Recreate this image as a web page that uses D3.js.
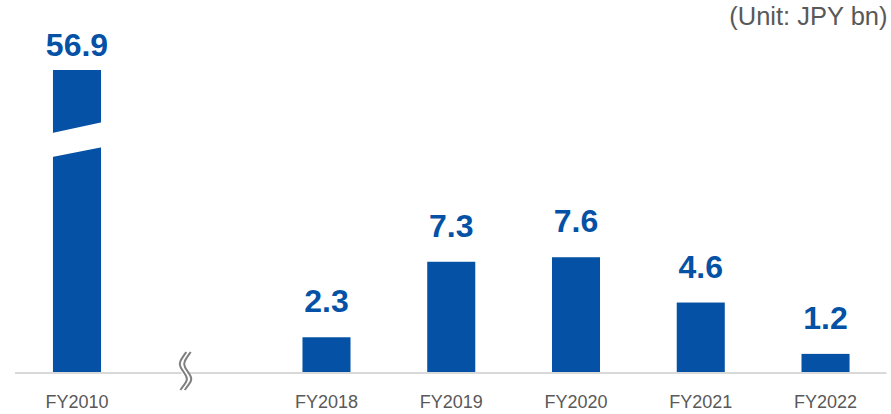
<!DOCTYPE html>
<html>
<head>
<meta charset="utf-8">
<script src="https://cdn.jsdelivr.net/npm/d3@7"></script>
<style>
  html, body { margin: 0; padding: 0; background: #fff; }
  svg { display: block; font-family: Arial, "Liberation Sans", sans-serif; }
</style>
</head>
<body>
<svg id="chart" width="891" height="414"></svg>
<script>
// Profit by fiscal year (JPY bn); the empty slot stands for the skipped years
const categories = ["FY2010", "", "FY2018", "FY2019", "FY2020", "FY2021", "FY2022"];
const values     = [56.9, null, 2.3, 7.3, 7.6, 4.6, 1.2];
const valueLabels = ["56.9", "", "2.3", "7.3", "7.6", "4.6", "1.2"];
const unitLabel = "(Unit: JPY bn)";

const BLUE = "#0451A5";
const svg = d3.select("#chart");
const baseY = 372;

const x = d3.scaleBand()
  .domain(categories)
  .range([14.6, 887.9])
  .paddingInner(0.615)
  .paddingOuter(0.3075);

// Piecewise scale: linear up to 8, compressed above for the broken FY2010 bar
const y = d3.scaleLinear()
  .domain([0, 8, 56.9])
  .range([baseY, 251.2, 70]);

const data = categories.map((c, i) => ({ cat: c, value: values[i], label: valueLabels[i] }))
  .filter(d => d.value != null);

// Bars
svg.append("g").selectAll("rect")
  .data(data)
  .join("rect")
  .attr("x", d => x(d.cat))
  .attr("y", d => y(d.value))
  .attr("width", x.bandwidth())
  .attr("height", d => baseY - y(d.value))
  .attr("fill", BLUE);

// Slanted break across the FY2010 bar
const bx = x("FY2010"), bw = x.bandwidth();
svg.append("polygon")
  .attr("points", [
    [bx - 2, 133.2], [bx + bw + 2, 122.0],
    [bx + bw + 2, 147.0], [bx - 2, 157.2]
  ].map(p => p.join(",")).join(" "))
  .attr("fill", "#fff");

// Axis baseline
svg.append("line")
  .attr("x1", 15).attr("x2", 886.5)
  .attr("y1", baseY + 1).attr("y2", baseY + 1)
  .attr("stroke", "#D9D9D9").attr("stroke-width", 2);

// Axis break mark (double wave) in the empty slot
const sx = 185.5;
const wave = d3.line().curve(d3.curveBasis);
const wavePts = dx => [
  [sx + 3 + dx, 352], [sx - 4 + dx, 362], [sx - 4 + dx, 366],
  [sx + 4 + dx, 377], [sx + 4 + dx, 381], [sx - 3 + dx, 390]
];
svg.append("rect").attr("x", sx - 4).attr("y", baseY - 2).attr("width", 6).attr("height", 5).attr("fill", "#fff");
[-2.2, 2.2].forEach(dx => {
  svg.append("path")
    .attr("d", wave(wavePts(dx)))
    .attr("fill", "none")
    .attr("stroke", "#7F7F7F")
    .attr("stroke-width", 2);
});

// Value labels (the broken bar's label sits closer to its top)
svg.append("g").selectAll("text")
  .data(data)
  .join("text")
  .attr("x", d => x(d.cat) + x.bandwidth() / 2)
  .attr("y", d => y(d.value) - (d.cat === "FY2010" ? 14.5 : 25))
  .attr("text-anchor", "middle")
  .attr("font-size", 32)
  .attr("font-weight", "bold")
  .attr("fill", BLUE)
  .text(d => d.label);

// Category labels
svg.append("g").selectAll("text")
  .data(categories.filter(c => c !== ""))
  .join("text")
  .attr("x", c => x(c) + x.bandwidth() / 2)
  .attr("y", 408)
  .attr("text-anchor", "middle")
  .attr("font-size", 18)
  .attr("fill", "#595959")
  .text(c => c);

// Unit note
svg.append("text")
  .attr("x", 887.5)
  .attr("y", 25)
  .attr("text-anchor", "end")
  .attr("font-size", 25.5)
  .attr("fill", "#595959")
  .text(unitLabel);
</script>
</body>
</html>
